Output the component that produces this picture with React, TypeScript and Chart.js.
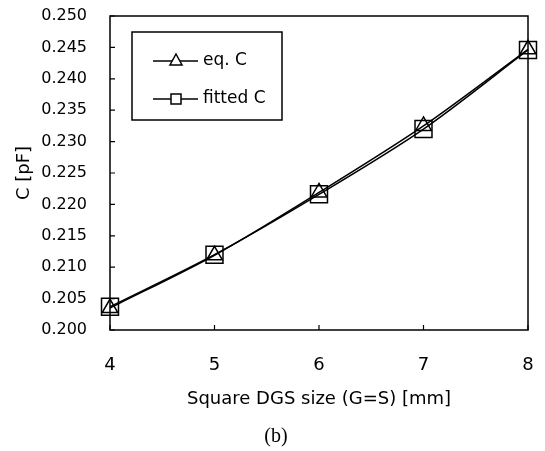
import React, { useEffect, useRef } from "react";
import { Chart, registerables } from "chart.js";

Chart.register(...registerables);

const sizes = [4, 5, 6, 7, 8];
const eqC = [0.2035, 0.2119, 0.2219, 0.2325, 0.2447];
const fittedC = [0.2037, 0.2120, 0.2216, 0.2320, 0.2446];
const seriesNames = ["eq. C", "fitted C"];
const xTitle = "Square DGS size (G=S) [mm]";
const yTitle = "C [pF]";
const caption = "(b)";

const FONT = "'DejaVu Sans', Verdana, sans-serif";

const framePlugin = {
  id: "frameAndTicks",
  afterDatasetsDraw(chart: any) {
    const { ctx, chartArea, scales } = chart;
    const { left, right, top, bottom } = chartArea;
    ctx.save();
    ctx.strokeStyle = "#000";
    ctx.lineWidth = 1.5;
    ctx.strokeRect(left, top, right - left, bottom - top);
    ctx.lineWidth = 1.2;
    ctx.beginPath();
    scales.y.ticks.forEach((t: any) => {
      const y = scales.y.getPixelForValue(t.value);
      ctx.moveTo(left, y);
      ctx.lineTo(left + 5, y);
    });
    scales.x.ticks.forEach((t: any) => {
      const x = scales.x.getPixelForValue(t.value);
      ctx.moveTo(x, bottom);
      ctx.lineTo(x, bottom - 5);
    });
    ctx.stroke();

    // legend box
    const bx = left + 22;
    const by = top + 16;
    const bw = 150;
    const bh = 88;
    ctx.fillStyle = "#fff";
    ctx.fillRect(bx, by, bw, bh);
    ctx.lineWidth = 1.5;
    ctx.strokeRect(bx, by, bw, bh);
    const rows = [
      { y: by + 29, style: "triangle", label: seriesNames[0] },
      { y: by + 67, style: "rect", label: seriesNames[1] },
    ];
    rows.forEach((r) => {
      ctx.lineWidth = 1.5;
      ctx.beginPath();
      ctx.moveTo(bx + 21, r.y);
      ctx.lineTo(bx + 66, r.y);
      ctx.stroke();
      const cx = bx + 44;
      ctx.beginPath();
      if (r.style === "triangle") {
        ctx.moveTo(cx, r.y - 7);
        ctx.lineTo(cx + 6, r.y + 4);
        ctx.lineTo(cx - 6, r.y + 4);
        ctx.closePath();
      } else {
        ctx.rect(cx - 5, r.y - 5, 10, 10);
      }
      ctx.fillStyle = "#fff";
      ctx.fill();
      ctx.stroke();
      ctx.fillStyle = "#000";
      ctx.font = `17px ${FONT}`;
      ctx.textBaseline = "middle";
      ctx.textAlign = "left";
      ctx.fillText(r.label, bx + 71, r.y);
    });

    // caption
    ctx.font = "20px 'Liberation Serif', 'Times New Roman', serif";
    ctx.textAlign = "center";
    ctx.textBaseline = "middle";
    ctx.fillText(caption, 276, 437);
    ctx.restore();
  },
};

export default function App() {
  const ref = useRef<HTMLCanvasElement | null>(null);
  useEffect(() => {
    document.body.style.margin = "0";
    const canvas = ref.current!;
    const chart = new Chart(canvas, {
      type: "line",
      data: {
        datasets: [
          {
            label: seriesNames[0],
            data: sizes.map((x, i) => ({ x, y: eqC[i] })),
            borderColor: "#000",
            borderWidth: 1.5,
            pointStyle: "triangle",
            pointRadius: 9,
            pointBorderWidth: 1.5,
            pointBorderColor: "#000",
            pointBackgroundColor: "rgba(0,0,0,0)",
            tension: 0.3,
            clip: false as any,
          },
          {
            label: seriesNames[1],
            data: sizes.map((x, i) => ({ x, y: fittedC[i] })),
            borderColor: "#000",
            borderWidth: 1.5,
            pointStyle: "rect",
            pointRadius: 12,
            pointBorderWidth: 1.5,
            pointBorderColor: "#000",
            pointBackgroundColor: "rgba(0,0,0,0)",
            tension: 0.3,
            clip: false as any,
          },
        ],
      },
      options: {
        responsive: false,
        animation: false,
        layout: { autoPadding: false, padding: { top: 16, right: 17, left: 0, bottom: 22 } },
        plugins: {
          legend: { display: false },
          tooltip: { enabled: false },
        },
        scales: {
          x: {
            type: "linear",
            min: 4,
            max: 8,
            ticks: { stepSize: 1, color: "#000", font: { family: FONT, size: 18 }, padding: 25 },
            grid: { display: false, drawTicks: false },
            border: { display: false },
            title: {
              display: true,
              text: xTitle,
              color: "#000",
              font: { family: FONT, size: 18 },
              padding: { top: 0, bottom: 19 },
            },
            afterFit(scale: any) {
              scale.height = 99;
              scale.paddingLeft = 0;
              scale.paddingRight = 0;
            },
          },
          y: {
            type: "linear",
            min: 0.2,
            max: 0.25,
            ticks: {
              stepSize: 0.005,
              color: "#000",
              font: { family: FONT, size: 16 },
              padding: 23,
              callback: (v: any) => Number(v).toFixed(3),
            },
            grid: { display: false, drawTicks: false },
            border: { display: false },
            title: {
              display: true,
              text: yTitle,
              color: "#000",
              font: { family: FONT, size: 18 },
              padding: { top: 14, bottom: 0 },
            },
            afterFit(scale: any) {
              scale.width = 110;
              scale.paddingTop = 0;
              scale.paddingBottom = 0;
            },
          },
        },
      },
      plugins: [framePlugin],
    });
    return () => chart.destroy();
  }, []);
  return (
    <div style={{ position: "fixed", left: 0, top: 0, width: 545, height: 451, background: "#fff" }}>
      <canvas ref={ref} width={545} height={451} />
    </div>
  );
}
